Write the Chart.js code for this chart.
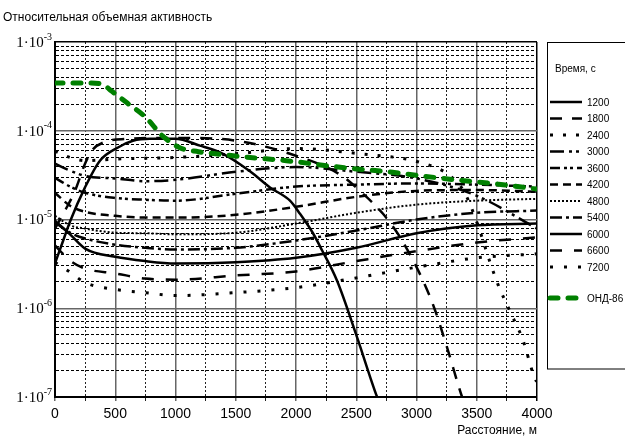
<!DOCTYPE html>
<html>
<head>
<meta charset="utf-8">
<script src="https://cdn.jsdelivr.net/npm/chart.js@4.4.0/dist/chart.umd.min.js"></script>
<style>
  html, body { margin: 0; padding: 0; background: #fff; }
</style>
</head>
<body>
<canvas id="grafico" width="625" height="442"></canvas>
<script>
// расстояние, м (общая сетка для кривых 3000–7200 с)
const distancia = [0, 125, 250, 500, 750, 1000, 1500, 2000, 2500, 3000, 3500, 4000];

const v3000 = [4.25e-5, 3.55e-5, 3.1e-5, 2.9e-5, 2.7e-5, 2.8e-5, 3.45e-5, 3.9e-5, 3.45e-5, 2.9e-5, 1.85e-5, 7.9e-6];
const v3600 = [2.95e-5, 2.35e-5, 2.0e-5, 1.75e-5, 1.67e-5, 1.63e-5, 1.95e-5, 2.35e-5, 2.47e-5, 2.55e-5, 2.47e-5, 2.35e-5];
const v4200 = [2.0e-5, 1.43e-5, 1.22e-5, 1.1e-5, 1.05e-5, 1.05e-5, 1.13e-5, 1.39e-5, 1.8e-5, 2.1e-5, 2.15e-5, 2.05e-5];
const v4800 = [1.1e-5, 8.6e-6, 7.9e-6, 7.1e-6, 7.0e-6, 6.8e-6, 7.1e-6, 9.0e-6, 1.19e-5, 1.47e-5, 1.63e-5, 1.71e-5];
const v5400 = [9.25e-6, 7.1e-6, 6.1e-6, 5.2e-6, 4.8e-6, 4.6e-6, 4.8e-6, 5.8e-6, 7.5e-6, 1.0e-5, 1.19e-5, 1.26e-5];
const v6000 = [9.7e-6, 6.8e-6, 4.7e-6, 3.8e-6, 3.4e-6, 3.2e-6, 3.3e-6, 3.7e-6, 4.8e-6, 7.0e-6, 8.6e-6, 9.0e-6];
const v6600 = [5.1e-6, 3.45e-6, 2.8e-6, 2.47e-6, 2.16e-6, 2.1e-6, 2.34e-6, 2.6e-6, 3.4e-6, 4.4e-6, 5.5e-6, 6.3e-6];
const v7200 = [3.3e-6, 2.55e-6, 1.95e-6, 1.63e-6, 1.5e-6, 1.39e-6, 1.5e-6, 1.71e-6, 2.2e-6, 2.9e-6, 3.7e-6, 4.1e-6];

// кривые, уходящие вниз, со своими точками по расстоянию
const x1200 = [0, 60, 125, 249, 373, 515, 647, 788, 996, 1203, 1394, 1618, 1784, 1950, 2033, 2141, 2216, 2340, 2507, 2673, 2720];
const v1200 = [3.2e-6, 5.4e-6, 9.5e-6, 2.3e-5, 4.6e-5, 6.4e-5, 7.7e-5, 8.1e-5, 8.1e-5, 6.8e-5, 5.5e-5, 3.5e-5, 2.3e-5, 1.63e-5, 1.16e-5, 7.0e-6, 4.5e-6, 2.05e-6, 4.7e-7, 1.0e-7, 7.1e-8];

const x1800 = [0, 83, 166, 249, 307, 415, 600, 830, 1100, 1511, 1950, 2366, 2556, 2722, 2864, 3054, 3154, 3254, 3378, 3420];
const v1800 = [7.9e-6, 1.26e-5, 2.1e-5, 4.25e-5, 6.0e-5, 7.5e-5, 8.1e-5, 8.3e-5, 8.3e-5, 7.7e-5, 5.5e-5, 3.2e-5, 1.95e-5, 1.16e-5, 6.3e-6, 2.05e-6, 9.5e-7, 3.6e-7, 1.0e-7, 7.0e-8];

const x2400 = [0, 125, 250, 500, 1000, 1500, 2000, 2530, 3030, 3280, 3400, 3510, 3610, 3680, 3780, 3880, 3990, 4000];
const v2400 = [5.9e-5, 5.0e-5, 4.6e-5, 4.8e-5, 5.0e-5, 5.5e-5, 6.3e-5, 5.5e-5, 4.4e-5, 3.1e-5, 2.0e-5, 8.6e-6, 3.3e-6, 1.8e-6, 9.0e-7, 4.5e-7, 1.54e-7, 1.5e-7];

const xOnd = [0, 150, 300, 400, 470, 600, 750, 890, 1040, 1190, 1330, 1620, 1920, 2350, 2800, 3220, 3680, 4000];
const vOnd = [3.45e-4, 3.45e-4, 3.45e-4, 3.3e-4, 2.8e-4, 2.05e-4, 1.43e-4, 8.8e-5, 6.4e-5, 5.8e-5, 5.5e-5, 5.0e-5, 4.6e-5, 3.9e-5, 3.4e-5, 2.9e-5, 2.5e-5, 2.2e-5];

const tempos = ['1200', '1800', '2400', '3000', '3600', '4200', '4800', '5400', '6000', '6600', '7200'];
const potencias = [-3, -4, -5, -6, -7];

const tituloY = 'Относительная объемная активность';
const tituloX = 'Расстояние, м';
const tituloLegenda = 'Время, с';
const rotuloOnd = 'ОНД-86';

// линии сетки по Y: 1..9 в каждой декаде
const marcasY = [];
for (let e = -7; e < -3; e++) {
    for (let m = 1; m < 10; m++) marcasY.push(m * Math.pow(10, e));
}
marcasY.push(1e-3);

function pontos(xs, ys) {
    return xs.map((x, i) => ({ x: x, y: ys[i] }));
}

const preto = '#000';
const verde = '#008000';

const vals = [
    pontos(x1200, v1200), pontos(x1800, v1800), pontos(x2400, v2400),
    pontos(distancia, v3000), pontos(distancia, v3600), pontos(distancia, v4200),
    pontos(distancia, v4800), pontos(distancia, v5400), pontos(distancia, v6000),
    pontos(distancia, v6600), pontos(distancia, v7200)
];
const tracos = [[], [12, 10], [3, 10], [14, 5, 3, 4, 3, 5], [10, 4, 3, 3, 3, 4], [8, 5], [2, 2], [12, 4, 3, 4], [], [12, 12], [3, 11]];
const larguras = [2.5, 2.5, 3, 2.5, 2.5, 2.5, 2, 2.5, 2.5, 2.5, 3];

const datasets = [{
    label: rotuloOnd,
    data: pontos(xOnd, vOnd),
    borderColor: verde,
    borderWidth: 5,
    borderDash: [8, 10],
    borderCapStyle: 'round',
    order: 0
}].concat(tempos.map((t, i) => ({
    label: t,
    data: vals[i],
    borderColor: preto,
    borderWidth: larguras[i],
    borderDash: tracos[i],
    borderCapStyle: 'butt',
    order: 1
})));

function ehDecada(v) {
    const l = Math.log10(v);
    return Math.abs(l - Math.round(l)) < 1e-9;
}

const extras = {
    id: 'extras',
    afterDraw(chart) {
        const c = chart.ctx;
        const y = chart.scales.y;
        c.save();
        c.fillStyle = '#000';
        c.textBaseline = 'middle';
        c.textAlign = 'left';
        c.font = '12px "Liberation Sans", Arial, sans-serif';
        c.fillText(tituloY, 3, 18);

        // подписи 1·10^n
        potencias.forEach(p => {
            const py = y.getPixelForValue(Math.pow(10, p));
            c.font = '15px "Liberation Serif", serif';
            const base = '1·10';
            const wb = c.measureText(base).width;
            c.font = '10px "Liberation Serif", serif';
            const exp = String(p);
            const we = c.measureText(exp).width;
            const x0 = 52 - wb - we;
            c.font = '15px "Liberation Serif", serif';
            c.fillText(base, x0, py + 1);
            c.font = '10px "Liberation Serif", serif';
            c.fillText(exp, x0 + wb, py - 5);
        });

        // легенда
        c.lineWidth = 1;
        c.strokeStyle = '#000';
        c.setLineDash([]);
        c.strokeRect(547.5, 42.5, 80, 326.5);
        c.font = '10px "Liberation Sans", Arial, sans-serif';
        c.fillText(tituloLegenda, 555, 69);

        const ds = chart.data.datasets;
        const linha = (d, yy) => {
            c.save();
            c.strokeStyle = d.borderColor;
            c.lineWidth = d.borderWidth;
            c.lineCap = d.borderCapStyle;
            c.setLineDash(d.borderDash);
            c.beginPath();
            c.moveTo(550, yy);
            c.lineTo(582, yy);
            c.stroke();
            c.restore();
            c.fillText(d.label, 587, yy + 1);
        };
        for (let i = 1; i < ds.length; i++) {
            linha(ds[i], 102 + (i - 1) * 16.5);
        }
        linha(ds[0], 298);
        c.restore();
    }
};

const ctx = document.getElementById('grafico').getContext('2d');
new Chart(ctx, {
    type: 'line',
    data: { datasets: datasets },
    options: {
        responsive: false,
        animation: false,
        layout: { padding: { top: 42, right: 88, left: 0, bottom: 0 } },
        plugins: {
            legend: { display: false },
            tooltip: { enabled: false }
        },
        elements: {
            point: { radius: 0 },
            line: { cubicInterpolationMode: 'monotone', borderJoinStyle: 'round' }
        },
        scales: {
            x: {
                type: 'linear',
                min: 0,
                max: 4000,
                ticks: {
                    stepSize: 250,
                    autoSkip: false,
                    maxRotation: 0,
                    padding: 5,
                    color: '#000',
                    font: { family: '"Liberation Sans", Arial, sans-serif', size: 14 },
                    callback: v => (v % 500 === 0 ? String(v) : '')
                },
                grid: {
                    color: c => {
                        if (!c.tick) return '#000';
                        if (c.tick.value === 4000) return '#000';
                        return c.tick.value % 500 === 0 ? '#666' : '#222';
                    },
                    lineWidth: c => (c.tick && c.tick.value % 500 === 0 ? 1.5 : 1),
                    tickLength: 4
                },
                border: {
                    color: '#000',
                    width: 2,
                    dash: c => (c.tick && c.tick.value % 500 !== 0 ? [2, 2] : [])
                },
                title: {
                    display: true,
                    text: tituloX,
                    align: 'end',
                    color: '#000',
                    font: { family: '"Liberation Sans", Arial, sans-serif', size: 12 },
                    padding: { top: 0, bottom: 4 }
                },
                afterFit: s => { s.height = 45; }
            },
            y: {
                type: 'logarithmic',
                min: 1e-7,
                max: 1e-3,
                afterBuildTicks: s => { s.ticks = marcasY.map(v => ({ value: v })); },
                ticks: { display: false },
                grid: {
                    color: c => {
                        if (!c.tick) return '#000';
                        const v = c.tick.value;
                        if (v >= 9.99e-4) return '#000';
                        return ehDecada(v) ? '#666' : '#000';
                    },
                    lineWidth: c => (c.tick && ehDecada(c.tick.value) ? 1.5 : 1),
                    drawTicks: false
                },
                border: {
                    color: '#000',
                    width: 2,
                    dash: c => (c.tick && !ehDecada(c.tick.value) ? [3, 2] : [])
                },
                afterFit: s => { s.width = 55; }
            }
        }
    },
    plugins: [extras]
});
</script>
</body>
</html>
